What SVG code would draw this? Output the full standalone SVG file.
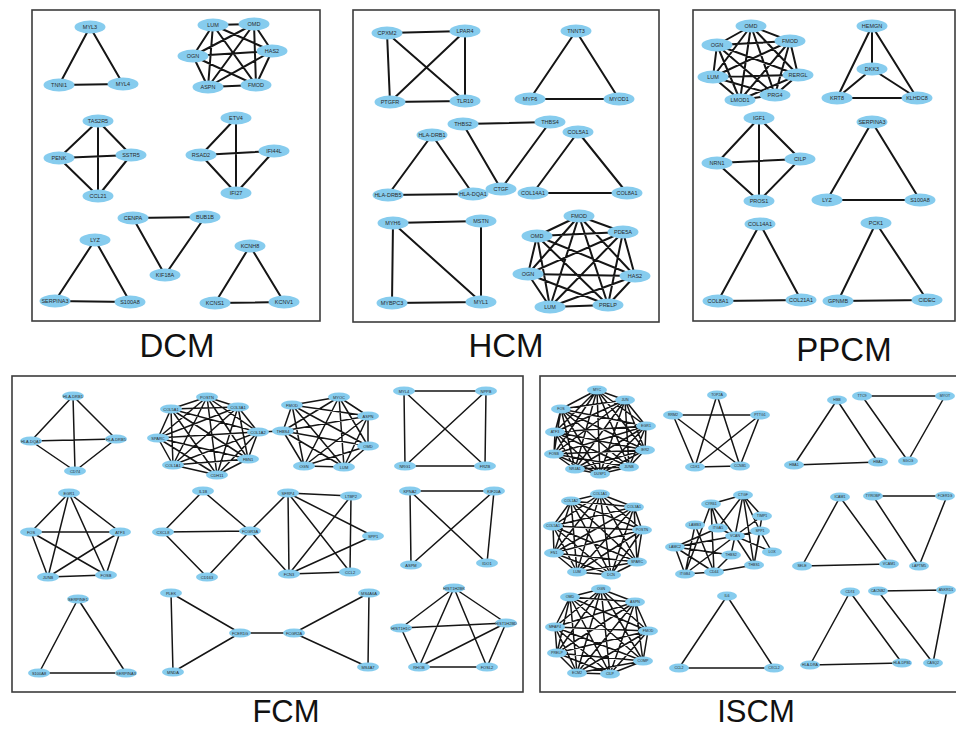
<svg xmlns="http://www.w3.org/2000/svg" xmlns:xlink="http://www.w3.org/1999/xlink" width="956" height="729" viewBox="0 0 956 729">
<style>
.frame{fill:none;stroke:#3c3c3c;stroke-width:1.6}
.title{font-family:"Liberation Sans",Arial,sans-serif;font-size:33px;fill:#111;text-anchor:middle}
.t2{font-size:31px}
.e1{fill:none;stroke:#151515;stroke-width:2;stroke-linecap:round;stroke-linejoin:round}
.e2{fill:none;stroke:#151515;stroke-width:1.5;stroke-linecap:round;stroke-linejoin:round}
text.l{font-family:"Liberation Sans",Arial,sans-serif;fill:#2a2a2a;text-anchor:middle;dominant-baseline:central}
.L text{font-size:5.5px}
.M text{font-size:4px}
.S text{font-size:3.6px}
</style>
<defs>
<ellipse id="nL" rx="15.5" ry="6.5" fill="#86CCEE"/>
<ellipse id="nM" rx="11" ry="4.6" fill="#86CCEE"/>
<ellipse id="nS" rx="10" ry="4.5" fill="#86CCEE"/>
</defs>
<rect width="956" height="729" fill="#fff"/>
<g id="frames">
<rect class="frame" x="32" y="10" width="288" height="311"/>
<rect class="frame" x="353" y="10" width="306" height="312"/>
<rect class="frame" x="693" y="10" width="262" height="311"/>
<rect class="frame" x="12" y="376" width="511" height="316"/>
<rect class="frame" x="540" y="376" width="420" height="316"/>
</g>
<g id="titles">
<text class="title" x="177" y="357">DCM</text>
<text class="title" x="506" y="357">HCM</text>
<text class="title" x="844" y="361">PPCM</text>
<text class="title t2" x="286" y="722">FCM</text>
<text class="title t2" x="756" y="722">ISCM</text>
</g>
<g id="connectors">
<path class="e1" d="M90 27L59 85L123 84Z"/>
<path class="e1" d="M213 25L254 24M213 25L272 51M213 25L193 56M213 25L256 85M213 25L208 87M254 24L272 51M254 24L193 56M254 24L256 85M254 24L208 87M272 51L193 56M272 51L256 85M272 51L208 87M193 56L256 85M193 56L208 87M256 85L208 87"/>
<path class="e1" d="M98 121L59 158M98 121L131 155M98 121L98 196M59 158L131 155M59 158L98 196M131 155L98 196"/>
<path class="e1" d="M236 118L201 155M236 118L236 193M201 155L274 151M201 155L236 193M274 151L236 193"/>
<path class="e1" d="M133 218L205 217L165 275Z"/>
<path class="e1" d="M95 240L55 301L130 302Z"/>
<path class="e1" d="M250 246L215 303L284 302Z"/>
<path class="e1" d="M387 33L465 31M387 33L390 102M387 33L465 101M465 31L390 102M465 31L465 101M390 102L465 101"/>
<path class="e1" d="M576 31L530 99L619 99Z"/>
<path class="e1" d="M463 124L550 122M432 135L388 195M432 135L473 194M388 195L473 194M463 124L501 189M550 122L501 189M578 132L533 193M578 132L627 193M533 193L627 193"/>
<path class="e1" d="M393 223L481 221M393 223L392 303M393 223L481 302M481 221L481 302M392 303L481 302"/>
<path class="e1" d="M579 216L537 236M579 216L623 232M579 216L528 274M579 216L635 276M579 216L550 307M579 216L608 305M537 236L623 232M537 236L528 274M537 236L635 276M537 236L550 307M537 236L608 305M623 232L528 274M623 232L635 276M623 232L550 307M623 232L608 305M528 274L635 276M528 274L550 307M528 274L608 305M635 276L550 307M635 276L608 305M550 307L608 305"/>
<path class="e1" d="M751 26L717 45M751 26L790 41M751 26L713 77M751 26L798 75M751 26L740 100M751 26L775 95M717 45L790 41M717 45L713 77M717 45L798 75M717 45L740 100M717 45L775 95M790 41L713 77M790 41L798 75M790 41L740 100M790 41L775 95M713 77L798 75M713 77L740 100M713 77L775 95M798 75L740 100M798 75L775 95M740 100L775 95"/>
<path class="e1" d="M872 26L872 69M872 26L837 98M872 26L917 98M872 69L837 98M872 69L917 98M837 98L917 98"/>
<path class="e1" d="M759 118L717 163M759 118L800 159M759 118L759 201M717 163L800 159M717 163L759 201M800 159L759 201"/>
<path class="e1" d="M872 122L827 200L920 200Z"/>
<path class="e1" d="M760 224L718 301L801 300Z"/>
<path class="e1" d="M876 223L838 301L927 300Z"/>
<path class="e2" d="M73 396L31 441M73 396L116 439M73 396L75 471M31 441L116 439M31 441L75 471M116 439L75 471"/>
<path class="e2" d="M207 397L171 409M207 397L238 407M207 397L158 438M207 397L258 432M207 397L173 465M207 397L248 459M207 397L217 475M171 409L238 407M171 409L158 438M171 409L258 432M171 409L173 465M171 409L248 459M171 409L217 475M238 407L158 438M238 407L258 432M238 407L173 465M238 407L248 459M238 407L217 475M158 438L258 432M158 438L173 465M158 438L248 459M158 438L217 475M258 432L173 465M258 432L248 459M258 432L217 475M173 465L248 459M173 465L217 475M248 459L217 475M258 432L283 431"/>
<path class="e2" d="M292 405L339 397M292 405L368 416M292 405L283 431M292 405L368 446M292 405L304 466M292 405L344 467M339 397L368 416M339 397L283 431M339 397L368 446M339 397L304 466M339 397L344 467M368 416L283 431M368 416L368 446M368 416L304 466M368 416L344 467M283 431L368 446M283 431L304 466M283 431L344 467M368 446L304 466M368 446L344 467M304 466L344 467"/>
<path class="e2" d="M404 391L486 391M404 391L405 466M404 391L485 466M486 391L405 466M486 391L485 466M405 466L485 466"/>
<path class="e2" d="M69 493L31 532M69 493L120 532M69 493L48 577M69 493L106 575M31 532L120 532M31 532L48 577M31 532L106 575M120 532L48 577M120 532L106 575M48 577L106 575"/>
<path class="e2" d="M203 491L163 532M203 491L250 531M163 532L250 531M163 532L207 577M250 531L207 577"/>
<path class="e2" d="M288 493L351 496M288 493L289 574M288 493L350 572M288 493L373 536M351 496L289 574M351 496L350 572M289 574L350 572M289 574L373 536M250 531L288 493M250 531L289 574"/>
<path class="e2" d="M410 491L494 491M410 491L411 565M410 491L487 563M494 491L411 565M494 491L487 563"/>
<path class="e2" d="M78 599L39 673L126 673Z"/>
<path class="e2" d="M171 593L240 633M171 593L173 672M173 672L240 633M240 633L294 633M294 633L369 593M294 633L368 667M369 593L368 667"/>
<path class="e2" d="M454 588L401 628M454 588L506 623M454 588L419 667M454 588L487 667M401 628L506 623M401 628L419 667M506 623L419 667M506 623L487 667M419 667L487 667"/>
<path class="e2" d="M597 390L625 400M597 390L561 409M597 390L646 426M597 390L555 432M597 390L645 450M597 390L554 454M597 390L629 467M597 390L575 469M597 390L600 474M625 400L561 409M625 400L646 426M625 400L555 432M625 400L645 450M625 400L554 454M625 400L629 467M625 400L575 469M625 400L600 474M561 409L646 426M561 409L555 432M561 409L645 450M561 409L554 454M561 409L629 467M561 409L575 469M561 409L600 474M646 426L555 432M646 426L645 450M646 426L554 454M646 426L629 467M646 426L575 469M646 426L600 474M555 432L645 450M555 432L554 454M555 432L629 467M555 432L575 469M555 432L600 474M645 450L554 454M645 450L629 467M645 450L575 469M645 450L600 474M554 454L629 467M554 454L575 469M554 454L600 474M629 467L575 469M629 467L600 474M575 469L600 474"/>
<path class="e2" d="M717 395L695 467M717 395L740 466M673 415L760 415M673 415L695 467M673 415L740 466M760 415L695 467M760 415L740 466M695 467L740 466"/>
<path class="e2" d="M837 400L794 465L878 462Z"/>
<path class="e2" d="M862 396L945 396L908 461Z"/>
<path class="e2" d="M600 494L571 501M600 494L634 507M600 494L553 526M600 494L642 530M600 494L554 553M600 494L637 562M600 494L577 572M600 494L611 575M571 501L634 507M571 501L553 526M571 501L642 530M571 501L554 553M571 501L637 562M571 501L577 572M571 501L611 575M634 507L553 526M634 507L642 530M634 507L554 553M634 507L637 562M634 507L577 572M634 507L611 575M553 526L642 530M553 526L554 553M553 526L637 562M553 526L577 572M553 526L611 575M642 530L554 553M642 530L637 562M642 530L577 572M642 530L611 575M554 553L637 562M554 553L577 572M554 553L611 575M637 562L577 572M637 562L611 575M577 572L611 575"/>
<path class="e2" d="M743 495L711 504M743 495L718 528M743 495L735 536M743 495L762 516M743 495L760 531M743 495L754 565M711 504L718 528M711 504L735 536M711 504L685 574M711 504L714 572M695 525L685 574M695 525L714 572M718 528L735 536M718 528L675 547M735 536L762 516M735 536L760 531M735 536L675 547M735 536L731 555M735 536L685 574M735 536L754 565M735 536L772 552M762 516L754 565M760 531L754 565M760 531L772 552M675 547L685 574M675 547L714 572M675 547L731 555M731 555L714 572M685 574L714 572M714 572L754 565"/>
<path class="e2" d="M840 497L802 566L889 564Z"/>
<path class="e2" d="M873 496L947 496L919 566Z"/>
<path class="e2" d="M601 589L570 597M601 589L635 602M601 589L555 627M601 589L648 631M601 589L557 653M601 589L643 661M601 589L577 673M601 589L610 674M570 597L635 602M570 597L555 627M570 597L648 631M570 597L557 653M570 597L643 661M570 597L577 673M570 597L610 674M635 602L555 627M635 602L648 631M635 602L557 653M635 602L643 661M635 602L577 673M635 602L610 674M555 627L648 631M555 627L557 653M555 627L643 661M555 627L577 673M555 627L610 674M648 631L557 653M648 631L643 661M648 631L577 673M648 631L610 674M557 653L643 661M557 653L577 673M557 653L610 674M643 661L577 673M643 661L610 674M577 673L610 674"/>
<path class="e2" d="M727 596L679 668L774 668Z"/>
<path class="e2" d="M850 592L810 665L902 663Z"/>
<path class="e2" d="M878 591L947 590L933 663Z"/>
</g>
<g id="dcm-nodes" class="L">
<g id="dcm-MYL3"><use href="#nL" x="90" y="27"/><text class="l" x="90" y="27">MYL3</text></g>
<g id="dcm-TNNI1"><use href="#nL" x="59" y="85"/><text class="l" x="59" y="85">TNNI1</text></g>
<g id="dcm-MYL4"><use href="#nL" x="123" y="84"/><text class="l" x="123" y="84">MYL4</text></g>
<g id="dcm-LUM"><use href="#nL" x="213" y="25"/><text class="l" x="213" y="25">LUM</text></g>
<g id="dcm-OMD"><use href="#nL" x="254" y="24"/><text class="l" x="254" y="24">OMD</text></g>
<g id="dcm-HAS2"><use href="#nL" x="272" y="51"/><text class="l" x="272" y="51">HAS2</text></g>
<g id="dcm-OGN"><use href="#nL" x="193" y="56"/><text class="l" x="193" y="56">OGN</text></g>
<g id="dcm-FMOD"><use href="#nL" x="256" y="85"/><text class="l" x="256" y="85">FMOD</text></g>
<g id="dcm-ASPN"><use href="#nL" x="208" y="87"/><text class="l" x="208" y="87">ASPN</text></g>
<g id="dcm-TAS2R5"><use href="#nL" x="98" y="121"/><text class="l" x="98" y="121">TAS2R5</text></g>
<g id="dcm-PENK"><use href="#nL" x="59" y="158"/><text class="l" x="59" y="158">PENK</text></g>
<g id="dcm-SSTR5"><use href="#nL" x="131" y="155"/><text class="l" x="131" y="155">SSTR5</text></g>
<g id="dcm-CCL21"><use href="#nL" x="98" y="196"/><text class="l" x="98" y="196">CCL21</text></g>
<g id="dcm-ETV4"><use href="#nL" x="236" y="118"/><text class="l" x="236" y="118">ETV4</text></g>
<g id="dcm-RSAD2"><use href="#nL" x="201" y="155"/><text class="l" x="201" y="155">RSAD2</text></g>
<g id="dcm-IFI44L"><use href="#nL" x="274" y="151"/><text class="l" x="274" y="151">IFI44L</text></g>
<g id="dcm-IFI27"><use href="#nL" x="236" y="193"/><text class="l" x="236" y="193">IFI27</text></g>
<g id="dcm-CENPA"><use href="#nL" x="133" y="218"/><text class="l" x="133" y="218">CENPA</text></g>
<g id="dcm-BUB1B"><use href="#nL" x="205" y="217"/><text class="l" x="205" y="217">BUB1B</text></g>
<g id="dcm-KIF18A"><use href="#nL" x="165" y="275"/><text class="l" x="165" y="275">KIF18A</text></g>
<g id="dcm-LYZ"><use href="#nL" x="95" y="240"/><text class="l" x="95" y="240">LYZ</text></g>
<g id="dcm-SERPINA3"><use href="#nL" x="55" y="301"/><text class="l" x="55" y="301">SERPINA3</text></g>
<g id="dcm-S100A8"><use href="#nL" x="130" y="302"/><text class="l" x="130" y="302">S100A8</text></g>
<g id="dcm-KCNH8"><use href="#nL" x="250" y="246"/><text class="l" x="250" y="246">KCNH8</text></g>
<g id="dcm-KCNS1"><use href="#nL" x="215" y="303"/><text class="l" x="215" y="303">KCNS1</text></g>
<g id="dcm-KCNV1"><use href="#nL" x="284" y="302"/><text class="l" x="284" y="302">KCNV1</text></g>
</g>
<g id="hcm-nodes" class="L">
<g id="hcm-CPXM2"><use href="#nL" x="387" y="33"/><text class="l" x="387" y="33">CPXM2</text></g>
<g id="hcm-LPAR4"><use href="#nL" x="465" y="31"/><text class="l" x="465" y="31">LPAR4</text></g>
<g id="hcm-PTGFR"><use href="#nL" x="390" y="102"/><text class="l" x="390" y="102">PTGFR</text></g>
<g id="hcm-TLR10"><use href="#nL" x="465" y="101"/><text class="l" x="465" y="101">TLR10</text></g>
<g id="hcm-TNNT3"><use href="#nL" x="576" y="31"/><text class="l" x="576" y="31">TNNT3</text></g>
<g id="hcm-MYF6"><use href="#nL" x="530" y="99"/><text class="l" x="530" y="99">MYF6</text></g>
<g id="hcm-MYOD1"><use href="#nL" x="619" y="99"/><text class="l" x="619" y="99">MYOD1</text></g>
<g id="hcm-THBS2"><use href="#nL" x="463" y="124"/><text class="l" x="463" y="124">THBS2</text></g>
<g id="hcm-THBS4"><use href="#nL" x="550" y="122"/><text class="l" x="550" y="122">THBS4</text></g>
<g id="hcm-HLA-DRB1"><use href="#nL" x="432" y="135"/><text class="l" x="432" y="135">HLA-DRB1</text></g>
<g id="hcm-COL5A1"><use href="#nL" x="578" y="132"/><text class="l" x="578" y="132">COL5A1</text></g>
<g id="hcm-HLA-DRB5"><use href="#nL" x="388" y="195"/><text class="l" x="388" y="195">HLA-DRB5</text></g>
<g id="hcm-HLA-DQA1"><use href="#nL" x="473" y="194"/><text class="l" x="473" y="194">HLA-DQA1</text></g>
<g id="hcm-CTGF"><use href="#nL" x="501" y="189"/><text class="l" x="501" y="189">CTGF</text></g>
<g id="hcm-COL14A1"><use href="#nL" x="533" y="193"/><text class="l" x="533" y="193">COL14A1</text></g>
<g id="hcm-COL8A1"><use href="#nL" x="627" y="193"/><text class="l" x="627" y="193">COL8A1</text></g>
<g id="hcm-MYH6"><use href="#nL" x="393" y="223"/><text class="l" x="393" y="223">MYH6</text></g>
<g id="hcm-MSTN"><use href="#nL" x="481" y="221"/><text class="l" x="481" y="221">MSTN</text></g>
<g id="hcm-MYBPC3"><use href="#nL" x="392" y="303"/><text class="l" x="392" y="303">MYBPC3</text></g>
<g id="hcm-MYL1"><use href="#nL" x="481" y="302"/><text class="l" x="481" y="302">MYL1</text></g>
<g id="hcm-FMOD"><use href="#nL" x="579" y="216"/><text class="l" x="579" y="216">FMOD</text></g>
<g id="hcm-OMD"><use href="#nL" x="537" y="236"/><text class="l" x="537" y="236">OMD</text></g>
<g id="hcm-PDE5A"><use href="#nL" x="623" y="232"/><text class="l" x="623" y="232">PDE5A</text></g>
<g id="hcm-OGN"><use href="#nL" x="528" y="274"/><text class="l" x="528" y="274">OGN</text></g>
<g id="hcm-HAS2"><use href="#nL" x="635" y="276"/><text class="l" x="635" y="276">HAS2</text></g>
<g id="hcm-LUM"><use href="#nL" x="550" y="307"/><text class="l" x="550" y="307">LUM</text></g>
<g id="hcm-PRELP"><use href="#nL" x="608" y="305"/><text class="l" x="608" y="305">PRELP</text></g>
</g>
<g id="ppcm-nodes" class="L">
<g id="ppcm-OMD"><use href="#nL" x="751" y="26"/><text class="l" x="751" y="26">OMD</text></g>
<g id="ppcm-OGN"><use href="#nL" x="717" y="45"/><text class="l" x="717" y="45">OGN</text></g>
<g id="ppcm-FMOD"><use href="#nL" x="790" y="41"/><text class="l" x="790" y="41">FMOD</text></g>
<g id="ppcm-LUM"><use href="#nL" x="713" y="77"/><text class="l" x="713" y="77">LUM</text></g>
<g id="ppcm-RERGL"><use href="#nL" x="798" y="75"/><text class="l" x="798" y="75">RERGL</text></g>
<g id="ppcm-LMOD1"><use href="#nL" x="740" y="100"/><text class="l" x="740" y="100">LMOD1</text></g>
<g id="ppcm-PRG4"><use href="#nL" x="775" y="95"/><text class="l" x="775" y="95">PRG4</text></g>
<g id="ppcm-HEMGN"><use href="#nL" x="872" y="26"/><text class="l" x="872" y="26">HEMGN</text></g>
<g id="ppcm-DKK3"><use href="#nL" x="872" y="69"/><text class="l" x="872" y="69">DKK3</text></g>
<g id="ppcm-KRT8"><use href="#nL" x="837" y="98"/><text class="l" x="837" y="98">KRT8</text></g>
<g id="ppcm-KLHDC8"><use href="#nL" x="917" y="98"/><text class="l" x="917" y="98">KLHDC8</text></g>
<g id="ppcm-IGF1"><use href="#nL" x="759" y="118"/><text class="l" x="759" y="118">IGF1</text></g>
<g id="ppcm-NRN1"><use href="#nL" x="717" y="163"/><text class="l" x="717" y="163">NRN1</text></g>
<g id="ppcm-CILP"><use href="#nL" x="800" y="159"/><text class="l" x="800" y="159">CILP</text></g>
<g id="ppcm-PROS1"><use href="#nL" x="759" y="201"/><text class="l" x="759" y="201">PROS1</text></g>
<g id="ppcm-SERPINA3"><use href="#nL" x="872" y="122"/><text class="l" x="872" y="122">SERPINA3</text></g>
<g id="ppcm-LYZ"><use href="#nL" x="827" y="200"/><text class="l" x="827" y="200">LYZ</text></g>
<g id="ppcm-S100A8"><use href="#nL" x="920" y="200"/><text class="l" x="920" y="200">S100A8</text></g>
<g id="ppcm-COL14A1"><use href="#nL" x="760" y="224"/><text class="l" x="760" y="224">COL14A1</text></g>
<g id="ppcm-COL8A1"><use href="#nL" x="718" y="301"/><text class="l" x="718" y="301">COL8A1</text></g>
<g id="ppcm-COL21A1"><use href="#nL" x="801" y="300"/><text class="l" x="801" y="300">COL21A1</text></g>
<g id="ppcm-PCK1"><use href="#nL" x="876" y="223"/><text class="l" x="876" y="223">PCK1</text></g>
<g id="ppcm-GPNMB"><use href="#nL" x="838" y="301"/><text class="l" x="838" y="301">GPNMB</text></g>
<g id="ppcm-CIDEC"><use href="#nL" x="927" y="300"/><text class="l" x="927" y="300">CIDEC</text></g>
</g>
<g id="fcm-nodes" class="M">
<g id="fcm-HLA-DRB1"><use href="#nM" x="73" y="396"/><text class="l" x="73" y="396">HLA-DRB1</text></g>
<g id="fcm-HLA-DQA1"><use href="#nM" x="31" y="441"/><text class="l" x="31" y="441">HLA-DQA1</text></g>
<g id="fcm-HLA-DRB5"><use href="#nM" x="116" y="439"/><text class="l" x="116" y="439">HLA-DRB5</text></g>
<g id="fcm-CD74"><use href="#nM" x="75" y="471"/><text class="l" x="75" y="471">CD74</text></g>
<g id="fcm-POSTN"><use href="#nM" x="207" y="397"/><text class="l" x="207" y="397">POSTN</text></g>
<g id="fcm-COL5A1"><use href="#nM" x="171" y="409"/><text class="l" x="171" y="409">COL5A1</text></g>
<g id="fcm-COL3A1"><use href="#nM" x="238" y="407"/><text class="l" x="238" y="407">COL3A1</text></g>
<g id="fcm-SPARC"><use href="#nM" x="158" y="438"/><text class="l" x="158" y="438">SPARC</text></g>
<g id="fcm-COL1A2"><use href="#nM" x="258" y="432"/><text class="l" x="258" y="432">COL1A2</text></g>
<g id="fcm-COL1A1"><use href="#nM" x="173" y="465"/><text class="l" x="173" y="465">COL1A1</text></g>
<g id="fcm-FBN1"><use href="#nM" x="248" y="459"/><text class="l" x="248" y="459">FBN1</text></g>
<g id="fcm-CDH11"><use href="#nM" x="217" y="475"/><text class="l" x="217" y="475">CDH11</text></g>
<g id="fcm-FMOD"><use href="#nM" x="292" y="405"/><text class="l" x="292" y="405">FMOD</text></g>
<g id="fcm-MYOC"><use href="#nM" x="339" y="397"/><text class="l" x="339" y="397">MYOC</text></g>
<g id="fcm-ASPN"><use href="#nM" x="368" y="416"/><text class="l" x="368" y="416">ASPN</text></g>
<g id="fcm-THBS4"><use href="#nM" x="283" y="431"/><text class="l" x="283" y="431">THBS4</text></g>
<g id="fcm-OMD"><use href="#nM" x="368" y="446"/><text class="l" x="368" y="446">OMD</text></g>
<g id="fcm-OGN"><use href="#nM" x="304" y="466"/><text class="l" x="304" y="466">OGN</text></g>
<g id="fcm-LUM"><use href="#nM" x="344" y="467"/><text class="l" x="344" y="467">LUM</text></g>
<g id="fcm-MYL4"><use href="#nM" x="404" y="391"/><text class="l" x="404" y="391">MYL4</text></g>
<g id="fcm-NPPB"><use href="#nM" x="486" y="391"/><text class="l" x="486" y="391">NPPB</text></g>
<g id="fcm-NRG1"><use href="#nM" x="405" y="466"/><text class="l" x="405" y="466">NRG1</text></g>
<g id="fcm-FRZB"><use href="#nM" x="485" y="466"/><text class="l" x="485" y="466">FRZB</text></g>
<g id="fcm-EGR1"><use href="#nM" x="69" y="493"/><text class="l" x="69" y="493">EGR1</text></g>
<g id="fcm-FOS"><use href="#nM" x="31" y="532"/><text class="l" x="31" y="532">FOS</text></g>
<g id="fcm-ATF3"><use href="#nM" x="120" y="532"/><text class="l" x="120" y="532">ATF3</text></g>
<g id="fcm-JUNB"><use href="#nM" x="48" y="577"/><text class="l" x="48" y="577">JUNB</text></g>
<g id="fcm-FOSB"><use href="#nM" x="106" y="575"/><text class="l" x="106" y="575">FOSB</text></g>
<g id="fcm-IL1B"><use href="#nM" x="203" y="491"/><text class="l" x="203" y="491">IL1B</text></g>
<g id="fcm-CXCL8"><use href="#nM" x="163" y="532"/><text class="l" x="163" y="532">CXCL8</text></g>
<g id="fcm-FCGR3A"><use href="#nM" x="250" y="531"/><text class="l" x="250" y="531">FCGR3A</text></g>
<g id="fcm-CD163"><use href="#nM" x="207" y="577"/><text class="l" x="207" y="577">CD163</text></g>
<g id="fcm-SFRP4"><use href="#nM" x="288" y="493"/><text class="l" x="288" y="493">SFRP4</text></g>
<g id="fcm-LTBP2"><use href="#nM" x="351" y="496"/><text class="l" x="351" y="496">LTBP2</text></g>
<g id="fcm-SPP1"><use href="#nM" x="373" y="536"/><text class="l" x="373" y="536">SPP1</text></g>
<g id="fcm-FCN3"><use href="#nM" x="289" y="574"/><text class="l" x="289" y="574">FCN3</text></g>
<g id="fcm-CCL2"><use href="#nM" x="350" y="572"/><text class="l" x="350" y="572">CCL2</text></g>
<g id="fcm-KPNA2"><use href="#nM" x="410" y="491"/><text class="l" x="410" y="491">KPNA2</text></g>
<g id="fcm-KIF20A"><use href="#nM" x="494" y="491"/><text class="l" x="494" y="491">KIF20A</text></g>
<g id="fcm-ASPM"><use href="#nM" x="411" y="565"/><text class="l" x="411" y="565">ASPM</text></g>
<g id="fcm-IDO1"><use href="#nM" x="487" y="563"/><text class="l" x="487" y="563">IDO1</text></g>
<g id="fcm-SERPINE1"><use href="#nM" x="78" y="599"/><text class="l" x="78" y="599">SERPINE1</text></g>
<g id="fcm-S100A8"><use href="#nM" x="39" y="673"/><text class="l" x="39" y="673">S100A8</text></g>
<g id="fcm-SERPINA3"><use href="#nM" x="126" y="673"/><text class="l" x="126" y="673">SERPINA3</text></g>
<g id="fcm-PLEK"><use href="#nM" x="171" y="593"/><text class="l" x="171" y="593">PLEK</text></g>
<g id="fcm-FCER1G"><use href="#nM" x="240" y="633"/><text class="l" x="240" y="633">FCER1G</text></g>
<g id="fcm-MNDA"><use href="#nM" x="173" y="672"/><text class="l" x="173" y="672">MNDA</text></g>
<g id="fcm-FCGR2A"><use href="#nM" x="294" y="633"/><text class="l" x="294" y="633">FCGR2A</text></g>
<g id="fcm-MS4A6A"><use href="#nM" x="369" y="593"/><text class="l" x="369" y="593">MS4A6A</text></g>
<g id="fcm-MS4A7"><use href="#nM" x="368" y="667"/><text class="l" x="368" y="667">MS4A7</text></g>
<g id="fcm-HIST1H2BK"><use href="#nM" x="454" y="588"/><text class="l" x="454" y="588">HIST1H2BK</text></g>
<g id="fcm-HIST1H1C"><use href="#nM" x="401" y="628"/><text class="l" x="401" y="628">HIST1H1C</text></g>
<g id="fcm-HIST1H2BD"><use href="#nM" x="506" y="623"/><text class="l" x="506" y="623">HIST1H2BD</text></g>
<g id="fcm-RHOB"><use href="#nM" x="419" y="667"/><text class="l" x="419" y="667">RHOB</text></g>
<g id="fcm-FOSL2"><use href="#nM" x="487" y="667"/><text class="l" x="487" y="667">FOSL2</text></g>
</g>
<g id="iscm-nodes" class="S">
<g id="iscm-MYC"><use href="#nS" x="597" y="390"/><text class="l" x="597" y="390">MYC</text></g>
<g id="iscm-JUN"><use href="#nS" x="625" y="400"/><text class="l" x="625" y="400">JUN</text></g>
<g id="iscm-FOS"><use href="#nS" x="561" y="409"/><text class="l" x="561" y="409">FOS</text></g>
<g id="iscm-EGR1"><use href="#nS" x="646" y="426"/><text class="l" x="646" y="426">EGR1</text></g>
<g id="iscm-ATF3"><use href="#nS" x="555" y="432"/><text class="l" x="555" y="432">ATF3</text></g>
<g id="iscm-IER2"><use href="#nS" x="645" y="450"/><text class="l" x="645" y="450">IER2</text></g>
<g id="iscm-FOSB"><use href="#nS" x="554" y="454"/><text class="l" x="554" y="454">FOSB</text></g>
<g id="iscm-JUNB"><use href="#nS" x="629" y="467"/><text class="l" x="629" y="467">JUNB</text></g>
<g id="iscm-NR4A1"><use href="#nS" x="575" y="469"/><text class="l" x="575" y="469">NR4A1</text></g>
<g id="iscm-DUSP1"><use href="#nS" x="600" y="474"/><text class="l" x="600" y="474">DUSP1</text></g>
<g id="iscm-TOP2A"><use href="#nS" x="717" y="395"/><text class="l" x="717" y="395">TOP2A</text></g>
<g id="iscm-RRM2"><use href="#nS" x="673" y="415"/><text class="l" x="673" y="415">RRM2</text></g>
<g id="iscm-PTTG1"><use href="#nS" x="760" y="415"/><text class="l" x="760" y="415">PTTG1</text></g>
<g id="iscm-CDK1"><use href="#nS" x="695" y="467"/><text class="l" x="695" y="467">CDK1</text></g>
<g id="iscm-CCNB1"><use href="#nS" x="740" y="466"/><text class="l" x="740" y="466">CCNB1</text></g>
<g id="iscm-HBB"><use href="#nS" x="837" y="400"/><text class="l" x="837" y="400">HBB</text></g>
<g id="iscm-HBA1"><use href="#nS" x="794" y="465"/><text class="l" x="794" y="465">HBA1</text></g>
<g id="iscm-HBA2"><use href="#nS" x="878" y="462"/><text class="l" x="878" y="462">HBA2</text></g>
<g id="iscm-TTC9"><use href="#nS" x="862" y="396"/><text class="l" x="862" y="396">TTC9</text></g>
<g id="iscm-MYOT"><use href="#nS" x="945" y="396"/><text class="l" x="945" y="396">MYOT</text></g>
<g id="iscm-SGCG"><use href="#nS" x="908" y="461"/><text class="l" x="908" y="461">SGCG</text></g>
<g id="iscm-COL1A1"><use href="#nS" x="600" y="494"/><text class="l" x="600" y="494">COL1A1</text></g>
<g id="iscm-COL1A2"><use href="#nS" x="571" y="501"/><text class="l" x="571" y="501">COL1A2</text></g>
<g id="iscm-COL3A1"><use href="#nS" x="634" y="507"/><text class="l" x="634" y="507">COL3A1</text></g>
<g id="iscm-COL5A1"><use href="#nS" x="553" y="526"/><text class="l" x="553" y="526">COL5A1</text></g>
<g id="iscm-POSTN"><use href="#nS" x="642" y="530"/><text class="l" x="642" y="530">POSTN</text></g>
<g id="iscm-FN1"><use href="#nS" x="554" y="553"/><text class="l" x="554" y="553">FN1</text></g>
<g id="iscm-SPARC"><use href="#nS" x="637" y="562"/><text class="l" x="637" y="562">SPARC</text></g>
<g id="iscm-LUM"><use href="#nS" x="577" y="572"/><text class="l" x="577" y="572">LUM</text></g>
<g id="iscm-DCN"><use href="#nS" x="611" y="575"/><text class="l" x="611" y="575">DCN</text></g>
<g id="iscm-CTGF"><use href="#nS" x="743" y="495"/><text class="l" x="743" y="495">CTGF</text></g>
<g id="iscm-CYR61"><use href="#nS" x="711" y="504"/><text class="l" x="711" y="504">CYR61</text></g>
<g id="iscm-LAMB3"><use href="#nS" x="695" y="525"/><text class="l" x="695" y="525">LAMB3</text></g>
<g id="iscm-ITGA5"><use href="#nS" x="718" y="528"/><text class="l" x="718" y="528">ITGA5</text></g>
<g id="iscm-VCAN"><use href="#nS" x="735" y="536"/><text class="l" x="735" y="536">VCAN</text></g>
<g id="iscm-TIMP1"><use href="#nS" x="762" y="516"/><text class="l" x="762" y="516">TIMP1</text></g>
<g id="iscm-SPP1"><use href="#nS" x="760" y="531"/><text class="l" x="760" y="531">SPP1</text></g>
<g id="iscm-LAMC2"><use href="#nS" x="675" y="547"/><text class="l" x="675" y="547">LAMC2</text></g>
<g id="iscm-THBS2"><use href="#nS" x="731" y="555"/><text class="l" x="731" y="555">THBS2</text></g>
<g id="iscm-ITGB4"><use href="#nS" x="685" y="574"/><text class="l" x="685" y="574">ITGB4</text></g>
<g id="iscm-CD44"><use href="#nS" x="714" y="572"/><text class="l" x="714" y="572">CD44</text></g>
<g id="iscm-THBS1"><use href="#nS" x="754" y="565"/><text class="l" x="754" y="565">THBS1</text></g>
<g id="iscm-LOX"><use href="#nS" x="772" y="552"/><text class="l" x="772" y="552">LOX</text></g>
<g id="iscm-ICAM1"><use href="#nS" x="840" y="497"/><text class="l" x="840" y="497">ICAM1</text></g>
<g id="iscm-SELE"><use href="#nS" x="802" y="566"/><text class="l" x="802" y="566">SELE</text></g>
<g id="iscm-VCAM1"><use href="#nS" x="889" y="564"/><text class="l" x="889" y="564">VCAM1</text></g>
<g id="iscm-TYROBP"><use href="#nS" x="873" y="496"/><text class="l" x="873" y="496">TYROBP</text></g>
<g id="iscm-FCER1G"><use href="#nS" x="945" y="496"/><text class="l" x="945" y="496">FCER1G</text></g>
<g id="iscm-LAPTM5"><use href="#nS" x="919" y="566"/><text class="l" x="919" y="566">LAPTM5</text></g>
<g id="iscm-OGN"><use href="#nS" x="601" y="589"/><text class="l" x="601" y="589">OGN</text></g>
<g id="iscm-OMD"><use href="#nS" x="570" y="597"/><text class="l" x="570" y="597">OMD</text></g>
<g id="iscm-ASPN"><use href="#nS" x="635" y="602"/><text class="l" x="635" y="602">ASPN</text></g>
<g id="iscm-MFAP4"><use href="#nS" x="555" y="627"/><text class="l" x="555" y="627">MFAP4</text></g>
<g id="iscm-FMOD"><use href="#nS" x="648" y="631"/><text class="l" x="648" y="631">FMOD</text></g>
<g id="iscm-PRELP"><use href="#nS" x="557" y="653"/><text class="l" x="557" y="653">PRELP</text></g>
<g id="iscm-COMP"><use href="#nS" x="643" y="661"/><text class="l" x="643" y="661">COMP</text></g>
<g id="iscm-ECM2"><use href="#nS" x="577" y="673"/><text class="l" x="577" y="673">ECM2</text></g>
<g id="iscm-CILP"><use href="#nS" x="610" y="674"/><text class="l" x="610" y="674">CILP</text></g>
<g id="iscm-IL6"><use href="#nS" x="727" y="596"/><text class="l" x="727" y="596">IL6</text></g>
<g id="iscm-CCL2"><use href="#nS" x="679" y="668"/><text class="l" x="679" y="668">CCL2</text></g>
<g id="iscm-CXCL2"><use href="#nS" x="774" y="668"/><text class="l" x="774" y="668">CXCL2</text></g>
<g id="iscm-CD74"><use href="#nS" x="850" y="592"/><text class="l" x="850" y="592">CD74</text></g>
<g id="iscm-HLA-DRA"><use href="#nS" x="810" y="665"/><text class="l" x="810" y="665">HLA-DRA</text></g>
<g id="iscm-HLA-DPB1"><use href="#nS" x="902" y="663"/><text class="l" x="902" y="663">HLA-DPB1</text></g>
<g id="iscm-CACNB2"><use href="#nS" x="878" y="591"/><text class="l" x="878" y="591">CACNB2</text></g>
<g id="iscm-ANKRD1"><use href="#nS" x="946" y="590"/><text class="l" x="946" y="590">ANKRD1</text></g>
<g id="iscm-CASQ2"><use href="#nS" x="933" y="663"/><text class="l" x="933" y="663">CASQ2</text></g>
</g>
</svg>
